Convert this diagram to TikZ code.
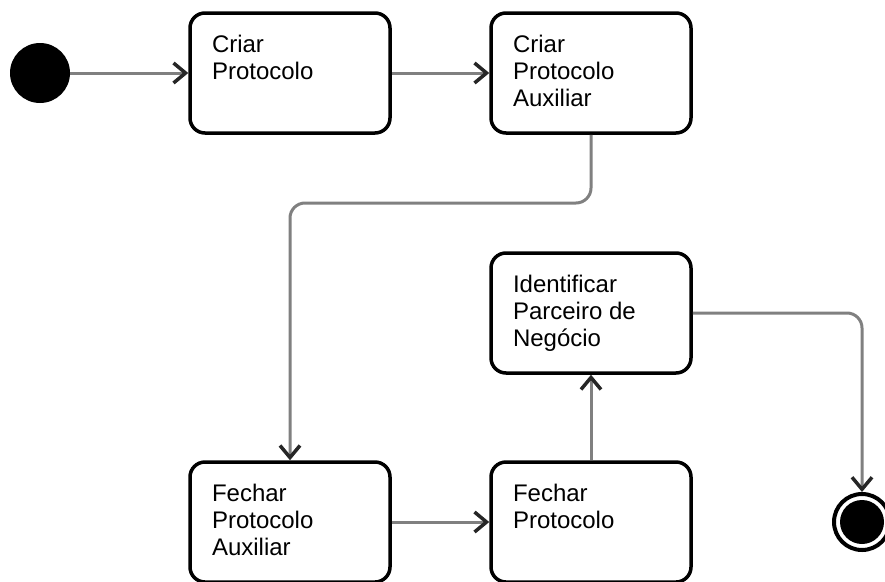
\documentclass[tikz,border=0pt]{standalone}
\usepackage{fontspec}
\setmainfont{Liberation Sans}
\usetikzlibrary{positioning,arrows.meta}

\newcommand{\acttext}[1]{\parbox[c][76pt][t]{156pt}{\raggedright #1}}

\begin{document}
\begin{tikzpicture}[->, >={Straight Barb[length=12pt,width=20pt,line width=3.5pt,color=black!85]}, x=1pt, y=-1pt]

    \tikzstyle{activity}=[draw, line width=3.5pt, rounded corners=15pt, inner sep=22pt, minimum width=200pt, minimum height=120pt, font={\fontsize{24}{27}\selectfont}]
    \tikzstyle{startdot}=[circle, fill=black, minimum size=60pt, inner sep=0pt, outer sep=0pt]
    \tikzstyle{enddot}=[circle, draw, line width=4pt, minimum size=56pt, inner sep=0pt, path picture={\fill (path picture bounding box.center) circle (22pt);}]
    \tikzstyle{flow}=[draw=black!50, line width=3pt, rounded corners=15pt]

    \useasboundingbox (0,0) rectangle (885,581);

    \node[startdot] (S) at (40,73) {};
    \node[activity, right=118.25pt of S] (A) {\acttext{Criar\\Protocolo}};
    \node[activity, right=97.5pt of A] (B) {\acttext{Criar\\Protocolo\\Auxiliar}};
    \node[activity, below=116.5pt of B] (E) {\acttext{Identificar\\Parceiro de\\Negócio}};
    \node[activity, below=85.5pt of E] (D) {\acttext{Fechar\\Protocolo}};
    \node[activity, left=97.5pt of D] (C) {\acttext{Fechar\\Protocolo\\Auxiliar}};
    \node[enddot, right=139.25pt of D] (F) {};

    \draw[flow] (S) -- (A);
    \draw[flow] (A) -- (B);
    \draw[flow] (B.south) -- ++(0,68.25) -| (C.north);
    \draw[flow] (C) -- (D);
    \draw[flow] (D) -- (E);
    \draw[flow] (E.east) -| (F.north);
\end{tikzpicture}
\end{document}
